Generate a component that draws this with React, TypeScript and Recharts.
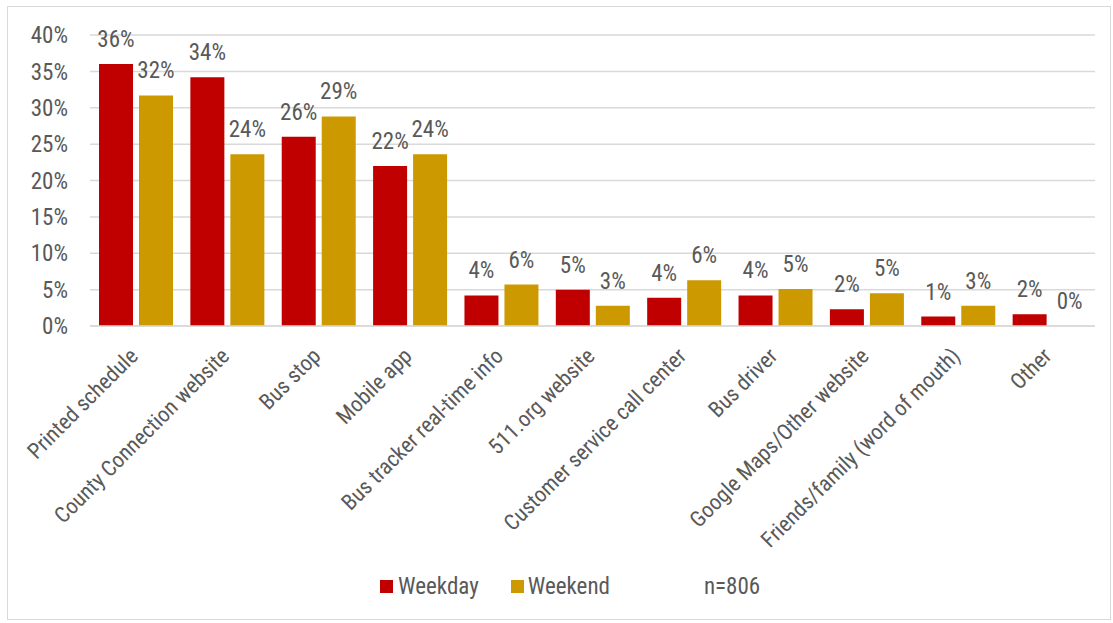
import { BarChart, Bar, XAxis, YAxis, CartesianGrid, LabelList } from 'recharts';

const categories = [
    'Printed schedule',
    'County Connection website',
    'Bus stop',
    'Mobile app',
    'Bus tracker real-time info',
    '511.org website',
    'Customer service call center',
    'Bus driver',
    'Google Maps/Other website',
    'Friends/family (word of mouth)',
    'Other',
];
const weekday = [36.0, 34.2, 26.0, 22.0, 4.2, 5.0, 3.9, 4.2, 2.3, 1.3, 1.6];
// Other/Weekend reads 0% - kept a hair above zero so its label still draws
const weekend = [31.7, 23.6, 28.8, 23.6, 5.7, 2.8, 6.3, 5.1, 4.5, 2.8, 0.01];
const yTicks = [0, 5, 10, 15, 20, 25, 30, 35, 40];

const FONT = "'Roboto Condensed', 'Liberation Sans Narrow', sans-serif";
const TEXT = '#595959';
const RED = '#C00000';
const GOLD = '#CC9900';
const FS = 23;

const data = categories.map((name, i) => ({ name, weekday: weekday[i], weekend: weekend[i] }));

// rotated category labels, anchored at the end like Excel does
function XTick(props: any) {
    const { x, y, payload } = props;
    return (
        <text
            x={x}
            y={y}
            dx={-14}
            dy={19}
            transform={`rotate(-45, ${x}, ${y})`}
            textAnchor="end"
            fill={TEXT}
            fontSize={22}
            fontFamily={FONT}
        >
            {payload.value}
        </text>
    );
}

const pct = (v: number) => `${Math.round(v)}%`;

export default function App() {
    return (
        <div style={{ position: 'absolute', left: 0, top: 0, width: 1113, height: 623, background: '#fff', fontFamily: FONT }}>
            <div style={{ position: 'absolute', left: 7, top: 6, width: 1104, height: 614, border: '1px solid #d9d9d9', boxSizing: 'border-box' }} />
            <BarChart
                width={1113}
                height={623}
                data={data}
                margin={{ top: 35, right: 18, bottom: 0, left: 0 }}
                barCategoryGap={9}
                barGap={6}
            >
                <CartesianGrid vertical={false} stroke="#d9d9d9" strokeWidth={1.5} />
                <XAxis
                    dataKey="name"
                    interval={0}
                    height={297}
                    tickLine={false}
                    axisLine={{ stroke: '#d9d9d9', strokeWidth: 1.5 }}
                    tick={<XTick />}
                />
                <YAxis
                    width={90}
                    domain={[0, 40]}
                    ticks={yTicks}
                    tickFormatter={(v: number) => `${v}%`}
                    tickLine={false}
                    axisLine={false}
                    tickMargin={16}
                    tick={{ fill: TEXT, fontSize: FS, fontFamily: FONT }}
                />
                <Bar dataKey="weekday" fill={RED} barSize={34} isAnimationActive={false}>
                    <LabelList dataKey="weekday" position="top" offset={17} formatter={pct} fill={TEXT} fontSize={FS} fontFamily={FONT} />
                </Bar>
                <Bar dataKey="weekend" fill={GOLD} barSize={34} isAnimationActive={false}>
                    <LabelList dataKey="weekend" position="top" offset={17} formatter={pct} fill={TEXT} fontSize={FS} fontFamily={FONT} />
                </Bar>
            </BarChart>
            {/* legend drawn as plain html under the plot */}
            <div style={{ position: 'absolute', top: 573, left: 380, display: 'flex', alignItems: 'center', color: TEXT, fontSize: FS, fontFamily: FONT }}>
                <span style={{ display: 'inline-block', width: 13, height: 13, background: RED, marginRight: 5 }} />
                <span style={{ marginRight: 32 }}>Weekday</span>
                <span style={{ display: 'inline-block', width: 13, height: 13, background: GOLD, marginRight: 4 }} />
                <span style={{ marginRight: 94 }}>Weekend</span>
                <span>n=806</span>
            </div>
        </div>
    );
}
